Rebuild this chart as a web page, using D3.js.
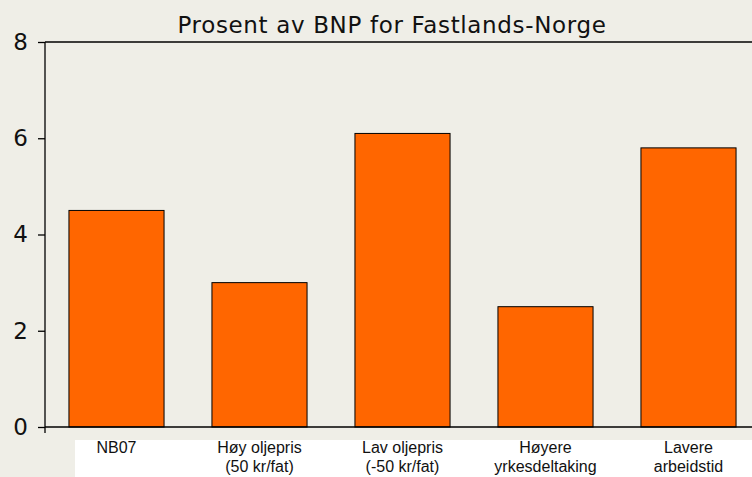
<!DOCTYPE html>
<html>
  <head>
    <meta charset="utf-8">
    <title>Prosent av BNP for Fastlands-Norge</title>
    <script src="https://d3js.org/d3.v7.min.js"></script>
    <style>
      body { margin: 0; background: #efeee7; }
      svg { display: block; }
      .title { font-family: "DejaVu Sans", Verdana, sans-serif; font-size: 23px; fill: #111; }
      .ytick text { font-family: "DejaVu Sans", Verdana, sans-serif; font-size: 23px; fill: #111; }
      .xlabel { font-family: "Liberation Sans", Arial, sans-serif; font-size: 16px; fill: #111; }
      .bar { fill: #ff6600; stroke: #000; stroke-width: 1px; }
    </style>
  </head>
  <body>
    <svg></svg>
    <script>
      // data
      var categories = ["NB07", "Høy oljepris|(50 kr/fat)", "Lav oljepris|(-50 kr/fat)", "Høyere|yrkesdeltaking", "Lavere|arbeidstid"];
      var values = [4.5, 3.0, 6.1, 2.5, 5.8];
      var yTicks = [0, 2, 4, 6, 8];

      // layout
      var svgWidth = 752, svgHeight = 477,
          plotLeft = 45, plotRight = 760,
          plotTop = 42, plotBottom = 427;

      var svg = d3.select("svg")
        .attr("width", svgWidth)
        .attr("height", svgHeight);

      var x = d3.scaleBand()
        .domain(categories)
        .range([plotLeft, plotRight])
        .paddingInner(0.335)
        .paddingOuter(0.1675);

      var y = d3.scaleLinear()
        .domain([0, 8])
        .range([plotBottom, plotTop]);

      // white label strip under the axis
      svg.append("rect")
        .attr("x", 75).attr("y", 440)
        .attr("width", svgWidth - 75).attr("height", svgHeight - 440)
        .attr("fill", "#fff");

      // title
      svg.append("text")
        .attr("class", "title")
        .attr("x", 392).attr("y", 33)
        .attr("text-anchor", "middle")
        .style("letter-spacing", "0.65px")
        .text("Prosent av BNP for Fastlands-Norge");

      // bars
      svg.append("g").selectAll("rect")
        .data(values)
        .enter().append("rect")
          .attr("class", "bar")
          .attr("x", function(d, i){ return x(categories[i]); })
          .attr("y", function(d){ return y(d); })
          .attr("width", x.bandwidth())
          .attr("height", function(d){ return y(0) - y(d); });

      // y axis
      var yAxis = d3.axisLeft(y).tickValues(yTicks).tickSize(7).tickPadding(10).tickFormat(d3.format("d"));
      var gy = svg.append("g")
        .attr("transform", "translate(" + plotLeft + ",0)")
        .call(yAxis);
      gy.select(".domain").remove();
      gy.selectAll(".tick").classed("ytick", true);
      gy.selectAll(".tick line").attr("stroke", "#000").attr("stroke-width", 1.3);
      gy.selectAll(".tick text").attr("font-family", null).attr("font-size", null).attr("fill", null);

      svg.append("line")
        .attr("x1", plotLeft).attr("x2", plotLeft)
        .attr("y1", plotTop).attr("y2", plotBottom)
        .attr("stroke", "#000").attr("stroke-width", 1.3);

      // top frame line and baseline
      svg.append("line")
        .attr("x1", plotLeft).attr("x2", svgWidth)
        .attr("y1", plotTop).attr("y2", plotTop)
        .attr("stroke", "#000").attr("stroke-width", 1.3);
      svg.append("line")
        .attr("x1", plotLeft).attr("x2", svgWidth)
        .attr("y1", plotBottom).attr("y2", plotBottom)
        .attr("stroke", "#000").attr("stroke-width", 1.3);

      // x tick mark below baseline
      svg.append("line")
        .attr("x1", plotLeft).attr("x2", plotLeft)
        .attr("y1", plotBottom).attr("y2", plotBottom + 6)
        .attr("stroke", "#000").attr("stroke-width", 1.3);

      // category labels
      var labels = svg.append("g").selectAll("text")
        .data(categories)
        .enter().append("text")
          .attr("class", "xlabel")
          .attr("text-anchor", "middle")
          .attr("x", function(d){ return x(d) + x.bandwidth() / 2; })
          .attr("y", 453);
      labels.selectAll("tspan")
        .data(function(d){ return d.split("|"); })
        .enter().append("tspan")
          .attr("x", function(){ return d3.select(this.parentNode).attr("x"); })
          .attr("dy", function(d, i){ return i ? 19 : 0; })
          .text(function(d){ return d; });
    </script>
  </body>
</html>
